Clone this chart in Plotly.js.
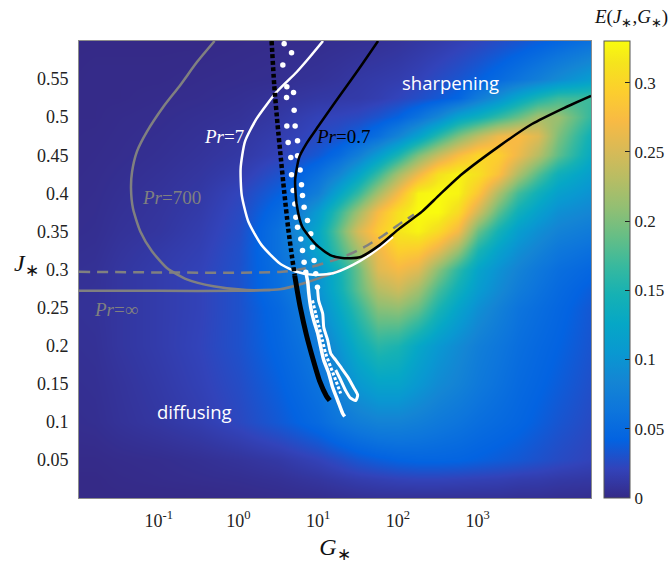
<!DOCTYPE html>
<html><head><meta charset="utf-8">
<script src="https://cdn.plot.ly/plotly-3.0.1.min.js"></script>
<style>body{margin:0;background:#fff}#chart{width:671px;height:570px}</style>
</head><body><div id="chart"></div>
<script>
// ---- heatmap grid (log10 G columns, J rows) ----
const logG_grid = [-2.2,-1.8,-1.5,-1,-0.5,0,0.5,0.75,1,1.25,1.5,1.75,2,2.25,2.5,2.75,3,3.25,3.5,3.75,4,4.5];
const J_grid = [0,0.025,0.05,0.1,0.15,0.2,0.25,0.275,0.3,0.325,0.35,0.375,0.4,0.425,0.45,0.475,0.5,0.525,0.55,0.6];
const E_values = [
 [0,0,0,0,0,0.001,0.002,0.0025,0.003,0.004,0.005,0.006,0.006,0.006,0.006,0.006,0.006,0.006,0.005,0.005,0.004,0.003],
 [0,0,0.001,0.002,0.003,0.004,0.006,0.008,0.01,0.013,0.016,0.018,0.02,0.021,0.021,0.02,0.019,0.018,0.016,0.015,0.013,0.011],
 [0.001,0.001,0.002,0.003,0.005,0.008,0.012,0.016,0.02,0.026,0.033,0.038,0.042,0.044,0.044,0.043,0.04,0.037,0.034,0.03,0.026,0.02],
 [0.003,0.004,0.007,0.011,0.016,0.024,0.035,0.042,0.05,0.063,0.073,0.08,0.08,0.075,0.068,0.062,0.055,0.05,0.045,0.039,0.033,0.024],
 [0.004,0.005,0.008,0.013,0.019,0.027,0.04,0.049,0.06,0.08,0.105,0.12,0.12,0.105,0.09,0.08,0.068,0.059,0.05,0.044,0.038,0.027],
 [0.005,0.006,0.01,0.015,0.021,0.03,0.045,0.056,0.07,0.1,0.135,0.158,0.15,0.125,0.105,0.09,0.075,0.065,0.055,0.048,0.042,0.03],
 [0.006,0.007,0.01,0.015,0.02,0.03,0.048,0.064,0.088,0.125,0.165,0.205,0.21,0.19,0.15,0.12,0.095,0.078,0.062,0.054,0.046,0.032],
 [0.0055,0.0065,0.01,0.015,0.02,0.03,0.054,0.072,0.098,0.137,0.185,0.23,0.245,0.22,0.175,0.14,0.11,0.09,0.072,0.06,0.05,0.036],
 [0.005,0.006,0.01,0.015,0.02,0.03,0.055,0.072,0.1,0.14,0.19,0.255,0.27,0.255,0.205,0.16,0.12,0.098,0.08,0.066,0.055,0.044],
 [0.004,0.005,0.0085,0.013,0.018,0.029,0.058,0.082,0.122,0.17,0.22,0.265,0.295,0.29,0.26,0.215,0.15,0.118,0.095,0.08,0.066,0.055],
 [0.003,0.004,0.007,0.01,0.016,0.027,0.058,0.09,0.125,0.185,0.25,0.29,0.315,0.325,0.305,0.27,0.19,0.145,0.112,0.094,0.08,0.068],
 [0.0025,0.0035,0.006,0.009,0.014,0.025,0.05,0.075,0.11,0.163,0.218,0.273,0.31,0.33,0.33,0.305,0.245,0.185,0.14,0.115,0.095,0.082],
 [0.002,0.003,0.005,0.008,0.012,0.022,0.04,0.055,0.075,0.12,0.165,0.22,0.27,0.325,0.33,0.325,0.285,0.225,0.172,0.14,0.115,0.095],
 [0.0015,0.0025,0.004,0.0065,0.01,0.016,0.03,0.041,0.057,0.082,0.12,0.167,0.22,0.265,0.31,0.325,0.31,0.28,0.225,0.18,0.14,0.108],
 [0.001,0.002,0.003,0.005,0.008,0.012,0.02,0.027,0.035,0.05,0.075,0.11,0.15,0.2,0.24,0.275,0.3,0.295,0.265,0.23,0.185,0.12],
 [0.001,0.0015,0.0025,0.004,0.0065,0.01,0.016,0.02,0.025,0.03,0.04,0.056,0.082,0.117,0.16,0.2,0.235,0.265,0.275,0.255,0.2,0.13],
 [0.001,0.001,0.002,0.003,0.005,0.007,0.012,0.016,0.02,0.022,0.025,0.032,0.042,0.06,0.085,0.12,0.14,0.165,0.19,0.22,0.215,0.155],
 [0.001,0.001,0.001,0.002,0.003,0.005,0.008,0.01,0.012,0.013,0.014,0.017,0.022,0.028,0.035,0.045,0.072,0.095,0.125,0.15,0.17,0.17],
 [0,0.001,0.001,0.001,0.002,0.003,0.004,0.006,0.007,0.009,0.012,0.014,0.016,0.02,0.026,0.032,0.04,0.05,0.062,0.075,0.09,0.115],
 [0,0,0,0,0,0.001,0.002,0.0025,0.003,0.004,0.005,0.006,0.008,0.011,0.014,0.018,0.022,0.027,0.032,0.038,0.045,0.06]
];

// ---- curves (log10 G, J) ----
const pr07_logG = [1.75,1.6,1.42,1.2,1.0,0.85,0.76,0.71,0.73,0.8,0.97,1.15,1.3,1.52,1.77,2.02,2.3,2.52,2.8,3.27,3.68,4.06,4.42];
const pr07_J    = [0.6,0.577,0.55,0.518,0.488,0.465,0.447,0.417,0.385,0.356,0.333,0.319,0.315,0.316,0.332,0.354,0.376,0.398,0.425,0.462,0.491,0.511,0.528];

const pr7_logG = [1.06,0.894,0.727,0.477,0.227,0.081,0.027,0.04,0.123,0.29,0.519,0.727,0.935,1.185,1.435,1.644,1.81,1.935];
const pr7_J    = [0.6,0.579,0.559,0.533,0.498,0.468,0.433,0.398,0.363,0.332,0.308,0.297,0.293,0.295,0.306,0.319,0.332,0.343];

const pr700_logG = [-0.3,-0.523,-0.731,-0.94,-1.148,-1.273,-1.335,-1.348,-1.323,-1.231,-1.085,-0.898,-0.648,-0.315,0.102,0.519,0.82,1.1,1.3];
const pr700_J    = [0.6,0.572,0.542,0.514,0.481,0.455,0.428,0.407,0.38,0.35,0.324,0.302,0.287,0.278,0.273,0.274,0.282,0.292,0.3];

const prInf_logG = [-2,-1,0,0.4];
const prInf_J    = [0.272,0.272,0.272,0.273];

const dashed_logG = [-2,0.55,0.9,1.16,1.35,1.57,1.82,2.05,2.2];
const dashed_J    = [0.297,0.297,0.303,0.311,0.318,0.329,0.345,0.362,0.372];

const blackDot_logG = [0.415,0.448,0.49,0.531,0.573,0.623,0.673,0.705];
const blackDot_J    = [0.6,0.542,0.49,0.446,0.402,0.354,0.315,0.292];
const blackThick_logG = [0.705,0.74,0.777,0.852,0.935,1.019,1.102,1.144];
const blackThick_J    = [0.292,0.27,0.249,0.214,0.182,0.153,0.134,0.128];

const whiteDots_logG = [0.5725,0.665,0.556,0.606,0.69,0.6025,0.6975,0.606,0.71,0.6225,0.74,0.656,0.74,0.665,0.7725,0.685,0.79,0.706,0.8025,0.719,0.8225,0.74,0.865,0.78125,0.906,0.8025,0.9275,0.8225,0.9475,0.844,0.969,0.99];
const whiteDots_J    = [0.5965,0.5847,0.5686,0.5398,0.5323,0.5257,0.5092,0.4885,0.4885,0.4668,0.469,0.4471,0.4494,0.4244,0.4306,0.4036,0.4114,0.3861,0.397,0.3685,0.3816,0.3554,0.3642,0.3402,0.3468,0.3249,0.3292,0.3096,0.3118,0.2965,0.2944,0.2768];
const whiteForkA_logG = [0.844,0.869,0.881,0.906,0.944,0.994,1.031,1.069,1.131,1.181,1.244,1.306,1.331];
const whiteForkA_J    = [0.2965,0.283,0.269,0.25,0.233,0.216,0.198,0.181,0.164,0.145,0.128,0.111,0.107];
const whiteForkB_logG = [0.99,1.006,1.056,1.069,1.119,1.156,1.219,1.281,1.369,1.444,1.494,1.469,1.406,1.344,1.281,1.219];
const whiteForkB_J    = [0.2768,0.259,0.242,0.224,0.207,0.19,0.181,0.172,0.159,0.145,0.135,0.128,0.131,0.141,0.155,0.168];
const whiteMid_logG = [0.9275,0.969,1.01,1.0525,1.094,1.156,1.219,1.281];
const whiteMid_J    = [0.2594,0.2419,0.2245,0.207,0.1895,0.172,0.1546,0.1371];

const xTickVals = [0.1,1,10,100,1000];
const xTickText = ['10<sup>-1</sup>','10<sup>0</sup>','10<sup>1</sup>','10<sup>2</sup>','10<sup>3</sup>'];
const yTickVals = [0.05,0.1,0.15,0.2,0.25,0.3,0.35,0.4,0.45,0.5,0.55];
const yTickText = ['0.05','0.1','0.15','0.2','0.25','0.3','0.35','0.4','0.45','0.5','0.55'];
const cTickVals = [0,0.05,0.1,0.15,0.2,0.25,0.3];
const cTickText = ['0','0.05','0.1','0.15','0.2','0.25','0.3'];

const toG = a => a.map(v => Math.pow(10, v));

const parula = [[0,'rgb(53,42,135)'],[0.0635,'rgb(50,67,186)'],[0.127,'rgb(3,99,225)'],[0.19,'rgb(13,117,220)'],
 [0.254,'rgb(20,133,212)'],[0.317,'rgb(9,152,209)'],[0.381,'rgb(6,167,198)'],[0.444,'rgb(21,177,180)'],
 [0.508,'rgb(56,185,158)'],[0.571,'rgb(101,190,134)'],[0.635,'rgb(146,191,115)'],[0.698,'rgb(183,189,100)'],
 [0.762,'rgb(217,186,86)'],[0.825,'rgb(248,186,68)'],[0.889,'rgb(252,206,46)'],[0.952,'rgb(245,228,29)'],[1,'rgb(249,251,14)']];

const serif = 'Liberation Serif, Times New Roman, serif';
const GRAY = 'rgb(128,128,128)';

function line(lx, ly, color, width, dash) {
  return {type:'scatter', mode:'lines', x: toG(lx), y: ly, hoverinfo:'skip', showlegend:false,
          line:{color:color, width:width, dash: dash || 'solid', shape:'spline', smoothing:0.6}};
}

const traces = [
  {type:'heatmap', x: toG(logG_grid), y: J_grid, z: E_values, zmin:0, zmax:0.33, zsmooth:'best',
   colorscale: parula, hoverinfo:'skip',
   colorbar:{thickness:26, thicknessmode:'pixels', len:1, lenmode:'fraction', x:1.0254, xanchor:'left',
     y:0.5, yanchor:'middle', xpad:0, ypad:0, outlinecolor:'#555', outlinewidth:1,
     ticks:'inside', ticklen:5, tickcolor:'#222', tickvals:cTickVals, ticktext:cTickText,
     tickfont:{family:serif, size:17, color:'#222'}}},
  line(prInf_logG, prInf_J, GRAY, 2.5),
  line(pr700_logG, pr700_J, GRAY, 2.5),
  line(dashed_logG, dashed_J, GRAY, 2.5, '11px,7px'),
  line(pr7_logG, pr7_J, 'white', 2.5),
  line(whiteForkA_logG, whiteForkA_J, 'white', 3.5),
  line(whiteForkB_logG, whiteForkB_J, 'white', 3),
  line(whiteMid_logG, whiteMid_J, 'white', 3, '3px,2px'),
  {type:'scatter', mode:'markers', x: toG(whiteDots_logG), y: whiteDots_J, hoverinfo:'skip', showlegend:false,
   marker:{color:'white', size:5.5, line:{width:0}}},
  line(blackDot_logG, blackDot_J, 'black', 4.5, '4px,2.5px'),
  line(blackThick_logG, blackThick_J, 'black', 5),
  line(pr07_logG, pr07_J, 'black', 2.5)
];

const ann = (x, y, text, color, font, size, ref) => ({x:x, y:y, xref: ref||'x', yref: ref||'y', text:text, showarrow:false,
   font:{family:font, size:size, color:color}, xanchor:'center', yanchor:'middle'});

const layout = {
  width:671, height:570, margin:{l:79, r:80, t:41, b:72, autoexpand:false},
  paper_bgcolor:'white', plot_bgcolor:'white', showlegend:false,
  font:{family:serif, color:'#222'},
  xaxis:{type:'log', range:[-2,4.42], tickvals:xTickVals, ticktext:xTickText, ticks:'', showgrid:false, zeroline:false,
    showline:true, mirror:true, linecolor:'#8c8c8c', linewidth:1, tickfont:{family:serif, size:18, color:'#222'},
    ticklabelstandoff:6, automargin:false,
    title:{text:'<i>G</i><sub>∗</sub>', font:{family:serif, size:24, color:'#111'}, standoff:8}},
  yaxis:{range:[0,0.6], tickvals:yTickVals, ticktext:yTickText, ticks:'', showgrid:false, zeroline:false,
    showline:true, mirror:true, linecolor:'#8c8c8c', linewidth:1, tickfont:{family:serif, size:18, color:'#222'},
    ticklabelstandoff:6, automargin:false},
  annotations:[
    ann(-0.103, 0.51, '<i>J</i><sub>∗</sub>', '#111', serif, 24, 'paper'),
    ann(1.078, 1.05, '<i>E</i>(<i>J</i><sub>∗</sub>,<i>G</i><sub>∗</sub>)', '#111', serif, 19, 'paper'),
    ann(-0.844, 0.394, '<i>Pr</i>=700', GRAY, serif, 19),
    ann(-0.1875, 0.474, '<i>Pr</i>=7', 'white', serif, 19),
    ann(1.3125, 0.474, '<i>Pr</i>=0.7', 'black', serif, 19),
    ann(-1.53, 0.247, '<i>Pr</i>=∞', GRAY, serif, 19),
    ann(2.66, 0.5457, 'sharpening', 'white', 'Open Sans, sans-serif', 18.5),
    ann(-0.5475, 0.114, 'diffusing', 'white', 'Open Sans, sans-serif', 18.5)
  ]
};

Plotly.newPlot('chart', traces, layout, {staticPlot:true, displayModeBar:false});
</script></body></html>
